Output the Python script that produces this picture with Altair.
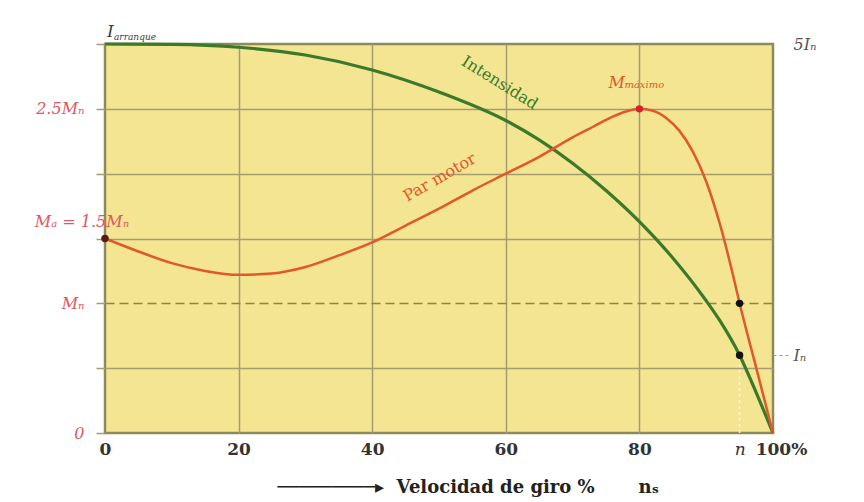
import altair as alt
import pandas as pd

# ---- data (speed in %, values in units of M_n; 3 = top = 5 I_n)
speed_torque = [0, 5, 10, 15, 20, 25, 30, 35, 40, 45, 50, 55, 60, 65, 70, 73, 76, 78, 80, 82, 84, 86, 88, 90, 92, 94, 95, 97.5, 100]
torque = [1.5, 1.40, 1.31, 1.25, 1.22, 1.23, 1.28, 1.37, 1.47, 1.60, 1.73, 1.87, 2.0, 2.13, 2.28, 2.36, 2.44, 2.48, 2.5, 2.485, 2.43, 2.33, 2.17, 1.94, 1.62, 1.22, 1.0, 0.5, 0]
speed_current = [0, 10, 20, 30, 40, 50, 60, 65, 70, 75, 80, 85, 90, 92, 95, 97.5, 100]
current = [3.0, 2.997, 2.975, 2.915, 2.80, 2.63, 2.41, 2.26, 2.08, 1.87, 1.63, 1.35, 1.02, 0.87, 0.6, 0.31, 0]

x_ticks = [0, 20, 40, 60, 80, 95, 100]
x_tick_labels = ["0", "20", "40", "60", "80", "n", "100%"]
left_ticks = [0, 0.5, 1, 1.5, 2, 2.5, 3]
left_tick_labels = ["0", "", "Mₙ", "", "", "2.5Mₙ", ""]
right_ticks = [0.6, 3]
right_tick_labels = ["Iₙ", "5Iₙ"]

point_x = [0, 80, 95, 95]
point_y = [1.5, 2.5, 1.0, 0.6]
point_kind = ["arranque", "maximo", "nominal", "nominal"]

nominal_speed = 95
nominal_current = 0.6

NB = "\u00a0"
x_title = "─" * 9 + "▸" + NB * 2 + "Velocidad de giro %" + NB * 7 + "nₛ"


def label_expr(values, labels):
    expr = "''"
    for v, l in reversed(list(zip(values, labels))):
        expr = f"datum.value == {v} ? '{l}' : ({expr})"
    return expr


SERIF = "DejaVu Serif"
BG = "#f3e592"
GRID = "#a39d70"
RED = "#e2572c"
GREEN = "#3b7a2a"
LABEL_RED = "#e0575f"

torque_df = pd.DataFrame({"x": speed_torque, "y": torque})
current_df = pd.DataFrame({"x": speed_current, "y": current})
points_df = pd.DataFrame({"x": point_x, "y": point_y, "k": point_kind})

xs = alt.Scale(domain=[0, 100], nice=False, zero=True)
ys = alt.Scale(domain=[0, 3], nice=False, zero=True)

x_axis = alt.Axis(
    values=x_ticks,
    labelExpr=label_expr(x_ticks, x_tick_labels),
    labelFont=SERIF, labelFontSize=17, labelColor="#333333",
    labelFontWeight={"condition": {"test": "datum.value == 95", "value": "normal"}, "value": "bold"},
    labelFontStyle={"condition": {"test": "datum.value == 95", "value": "italic"}, "value": "normal"},
    labelOffset={"condition": {"test": "datum.value == 100", "value": 8}, "value": 0},
    labelPadding=8, labelOverlap=False, labelFlush=False,
    ticks=False, domain=False,
    grid=True, gridColor=GRID, gridWidth=1.5,
    gridOpacity={"condition": {"test": "datum.value == 95 || datum.value == 0 || datum.value == 100", "value": 0}, "value": 1},
    title=x_title,
    titleFont=SERIF, titleFontSize=18, titleFontWeight="bold", titleColor="#222222",
    titleAlign="left", titleAnchor="start", titleX=172, titleY=45, titleBaseline="top",
)
X = alt.X("x:Q", scale=xs, axis=x_axis)

left_axis = alt.Axis(
    orient="left", values=left_ticks,
    labelExpr=label_expr(left_ticks, left_tick_labels),
    labelFont=SERIF, labelFontSize=16, labelFontStyle="italic", labelColor=LABEL_RED,
    labelPadding=12, tickSize=9, tickColor=GRID, tickWidth=1.5, domain=False,
    grid=True, gridColor={"condition": {"test": "datum.value == 1", "value": "#8f7f52"}, "value": GRID},
    gridWidth=1.5,
    gridDash={"condition": {"test": "datum.value == 1", "value": [9, 5]}, "value": []},
    gridOpacity={"condition": {"test": "datum.value == 0 || datum.value == 3", "value": 0}, "value": 1},
    title=None,
)
right_axis = alt.Axis(
    orient="right", values=right_ticks,
    labelExpr=label_expr(right_ticks, right_tick_labels),
    labelFont=SERIF, labelFontSize=16, labelFontStyle="italic", labelColor="#555555",
    labelPadding=4, tickSize=16, tickColor="#9a9a9a", tickDash=[3, 3], tickWidth=1.2,
    tickOpacity={"condition": {"test": "datum.value == 3", "value": 0}, "value": 1},
    domain=False, grid=False, title=None,
)

torque_line = alt.Chart(torque_df).mark_line(
    color=RED, strokeWidth=2.5, interpolate="monotone"
).encode(x=X, y=alt.Y("y:Q", scale=ys, axis=left_axis))

current_line = alt.Chart(current_df).mark_line(
    color=GREEN, strokeWidth=3.2, interpolate="monotone"
).encode(x=X, y=alt.Y("y:Q", scale=ys, axis=right_axis))

nominal_df = pd.DataFrame({"x": [nominal_speed], "y": [0], "y2": [nominal_current]})
nominal_rule = alt.Chart(nominal_df).mark_rule(
    color="#fff6c8", strokeWidth=1.5, strokeDash=[3, 3]
).encode(x=X, y=alt.Y("y:Q", scale=ys, axis=None), y2="y2:Q")

points = alt.Chart(points_df).mark_point(filled=True, opacity=1, size=55).encode(
    x=X, y=alt.Y("y:Q", scale=ys, axis=None),
    color=alt.Color("k:N", legend=None,
                    scale=alt.Scale(domain=["arranque", "maximo", "nominal"],
                                    range=["#5a1a12", "#d3232b", "#111111"])),
)


def text_layer(x, y, text, color, size, dx=0, dy=0, angle=0, align="left",
               baseline="alphabetic", style="italic", weight="normal"):
    df = pd.DataFrame({"x": [x], "y": [y], "t": [text]})
    return alt.Chart(df).mark_text(
        font=SERIF, fontSize=size, fontStyle=style, fontWeight=weight, color=color,
        dx=dx, dy=dy, angle=angle, align=align, baseline=baseline,
    ).encode(x=X, y=alt.Y("y:Q", scale=ys, axis=None), text="t:N")


texts = [
    text_layer(0, 3, "I", "#3d3d3d", 17, dx=2, dy=-7),
    text_layer(0, 3, "arranque", "#3d3d3d", 9, dx=9, dy=-4),
    text_layer(0, 1.5, "Mₐ = 1.5Mₙ", LABEL_RED, 16, dx=-23, dy=-12, align="center"),
    text_layer(80, 2.5, "M", RED, 16, dx=-31, dy=-21),
    text_layer(80, 2.5, "máximo", RED, 10, dx=-15, dy=-21),
    text_layer(59.1, 2.70, "Intensidad", GREEN, 16, angle=32, align="center", baseline="middle", style="normal"),
    text_layer(50.1, 1.97, "Par motor", RED, 16, angle=330, align="center", baseline="middle", style="normal"),
]

chart = alt.layer(
    nominal_rule, current_line, torque_line, points, *texts
).resolve_scale(y="independent").properties(
    width=668, height=389,
    autosize=alt.AutoSizeParams(type="none"),
    padding={"left": 97, "top": 36, "right": 80, "bottom": 64},
    background="white",
).configure_view(
    fill=BG, stroke="#8e8a5c", strokeWidth=2.5
)

chart.save("out.html", embed_options={"renderer": "svg", "actions": False})
